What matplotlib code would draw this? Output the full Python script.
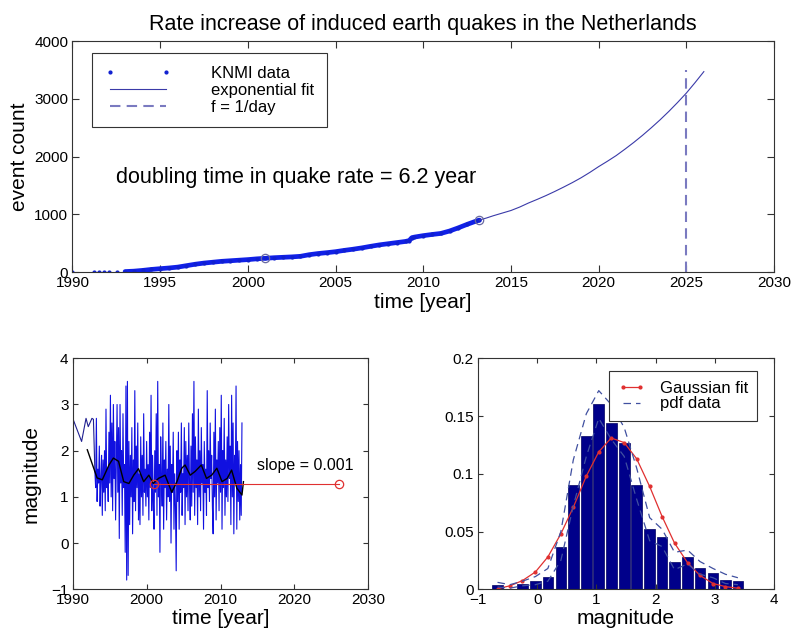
import numpy as np
import matplotlib
matplotlib.use("Agg")
import matplotlib.pyplot as plt
from matplotlib.ticker import FormatStrFormatter

plt.rcParams['font.family'] = ['Liberation Sans', 'DejaVu Sans']

# data - top panel: cumulative event count
knmi_year = [1990.0, 1991.24, 1991.52, 1991.81, 1992.1, 1992.54,
             1993.0, 1993.5, 1994.0, 1994.5, 1995.0, 1995.5, 1996.0, 1996.5,
             1997.0, 1997.5, 1998.0, 1998.5, 1999.0, 1999.5, 2000.0, 2000.5,
             2001.0, 2001.5, 2002.0, 2002.5, 2003.0, 2003.5, 2004.0, 2004.5,
             2005.0, 2005.5, 2006.0, 2006.5, 2007.0, 2007.5, 2008.0, 2008.5,
             2009.0, 2009.2, 2009.35, 2009.5, 2010.0, 2010.5, 2011.0, 2011.5,
             2012.0, 2012.5, 2013.0, 2013.2]
knmi_count = [0, 1, 2, 3, 4, 6,
              8, 15, 28, 45, 58, 70, 85, 110,
              135, 155, 170, 185, 195, 205, 215, 228,
              238, 248, 255, 262, 272, 300, 320, 335,
              352, 375, 395, 418, 445, 470, 490, 510,
              530, 545, 595, 605, 630, 650, 668, 710,
              765, 825, 880, 900]
fit_year = [2013.2, 2013.6, 2014, 2014.5, 2015, 2015.5, 2016, 2016.5, 2017,
            2017.5, 2018, 2018.5, 2019, 2019.5, 2020, 2020.5, 2021, 2021.5,
            2022, 2022.5, 2023, 2023.5, 2024, 2024.5, 2025, 2025.5, 2026]
fit_count = [900, 935, 975, 1020, 1065, 1125, 1195, 1258, 1324,
             1395, 1470, 1548, 1632, 1725, 1825, 1918, 2016, 2127,
             2243, 2366, 2497, 2634, 2780, 2935, 3098, 3280, 3470]
mark_year = [2001.0, 2013.2]
mark_count = [240, 900]
one_per_day_year = 2025
one_per_day_top = 3500

# data - bottom left: magnitude vs time
early_year = [1990.0, 1991.2, 1991.8, 1992.1, 1992.6, 1992.8, 1993.0]
early_mag = [2.7, 2.2, 2.7, 2.52, 2.7, 2.68, 1.55]
mag_start = 1993.0
mag_step = 0.1
magnitude = [
    1.55, 1.2, 2.7, 0.9, 1.6, 1.3, 2.1, 0.8, 1.4, 1.9,
    0.6, 1.8, 1.1, 2.0, 0.7, 2.9, 1.2, 1.6, 0.9, 2.4,
    1.3, 3.2, 1.0, 2.6, 0.7, 3.0, 1.4, 2.2, 0.5, 1.8,
    3.0, 1.1, 2.5, 0.1, 3.0, 1.3, 2.0, 0.6, 2.8, 1.2,
    1.7, -0.2, 3.4, -0.8, 3.5, -0.7, 2.2, 0.4, 1.9, 1.0,
    2.5, 0.2, 1.8, 0.9, 3.3, 0.7, 2.1, 1.2, 2.6, 0.5,
    1.5, 0.4, 2.3, 1.0, 1.9, 0.6, 2.8, 1.1, 1.6, 0.8,
    2.2, 1.0, 1.7, 0.5, 2.4, 1.2, 3.2, 0.7, 1.9, 1.0,
    0.3, 2.0, 1.1, 2.8, 0.6, 3.5, 1.0, 1.7, -0.2, 2.3,
    1.4, 0.8, 2.6, 0.3, 1.8, 1.2, 2.2, 0.5, 1.6, 1.0,
    3.0, 0.9, 2.1, 0.0, 1.7, 1.1, 2.4, 0.3, 1.5, 0.8,
    -0.6, 2.0, 0.9, 2.4, 0.3, 1.8, 1.1, 2.6, 0.6, 1.5,
    1.2, 2.5, 0.4, 2.2, 1.0, 1.9, 0.7, 2.6, 1.3, 0.5,
    2.1, 0.8, 2.8, 1.1, 3.5, 0.6, 2.3, 1.2, 1.8, 0.4,
    2.9, 1.0, 2.0, 0.7, 2.5, 1.3, 1.7, 0.3, 2.2, 1.1,
    1.6, 0.6, 3.3, 1.2, 2.0, 0.9, 2.6, 1.4, 1.9, 0.8,
    0.2, 2.4, 1.0, 2.9, 0.5, 1.8, 1.3, 2.2, 0.7, 2.5,
    1.1, 3.2, 0.3, 2.0, 1.2, 2.7, 0.6, 1.8, 1.0, 2.3,
    0.9, 3.0, 1.4, 2.1, 0.4, 3.2, 1.0, 2.6, 0.2, 1.9,
    1.3, 3.4, 0.3, 2.2, 0.9, 2.0, 0.5, 1.7, 0.6, 2.6,
]
trend_year = [1991.97, 1993.3, 1994.0, 1994.9, 1995.5, 1996.2, 1996.9,
              1997.6, 1998.25, 1998.9, 1999.6, 2000.3, 2000.9, 2001.6,
              2002.5, 2003.4, 2004.1, 2004.75, 2005.2, 2005.9, 2006.55,
              2007.4, 2008.1, 2008.8, 2009.5, 2010.2, 2010.9, 2011.5,
              2012.2, 2012.9, 2013.1]
trend_mag = [2.02, 1.41, 1.37, 1.69, 1.84, 1.77, 1.33,
             1.29, 1.47, 1.61, 1.33, 1.47, 1.29, 1.40,
             1.47, 1.10, 1.33, 1.62, 1.69, 1.47, 1.55,
             1.69, 1.40, 1.47, 1.62, 1.33, 1.40, 1.58,
             1.19, 1.04, 1.33]
slope_year = [2001.0, 2026.0]
slope_mag = [1.28, 1.28]

# data - bottom right: magnitude distribution
bin_center = [-0.67, -0.46, -0.25, -0.03, 0.18, 0.40, 0.61, 0.83, 1.04, 1.25,
              1.47, 1.68, 1.90, 2.11, 2.32, 2.54, 2.75, 2.97, 3.18, 3.39]
bin_prob = [0.004, 0.0, 0.005, 0.007, 0.011, 0.037, 0.090, 0.133, 0.160, 0.144,
            0.127, 0.090, 0.052, 0.045, 0.024, 0.028, 0.018, 0.014, 0.008, 0.007]
gauss_prob = [0.0005, 0.003, 0.0075, 0.015, 0.028, 0.048, 0.071, 0.098, 0.119, 0.131,
              0.127, 0.113, 0.089, 0.063, 0.040, 0.023, 0.012, 0.005, 0.0023, 0.0009]
pdf_upper = [0.006, 0.004, 0.007, 0.011, 0.018, 0.050, 0.112, 0.152, 0.172, 0.160,
             0.140, 0.105, 0.062, 0.052, 0.032, 0.034, 0.024, 0.018, 0.013, 0.010]
pdf_lower = [0.002, 0.001, 0.003, 0.004, 0.007, 0.025, 0.072, 0.115, 0.148, 0.130,
             0.115, 0.078, 0.042, 0.037, 0.017, 0.022, 0.013, 0.010, 0.005, 0.004]

frame = '#333333'

fig = plt.figure(figsize=(7.94, 6.39), dpi=100)
ax_top = fig.add_axes([0.0913, 0.5743, 0.8835, 0.3615])
ax_mag = fig.add_axes([0.0916, 0.0778, 0.3723, 0.3615])
ax_pdf = fig.add_axes([0.602, 0.0778, 0.3728, 0.3615])

# top panel
ax_top.plot(knmi_year[6:], knmi_count[6:], '-', color='#1020e8', lw=3.4,
            solid_capstyle='round')
ax_top.plot(knmi_year, knmi_count, '.', color='#1020d0', ms=4, label='KNMI data')
ax_top.plot(fit_year, fit_count, '-', color='#3a3aa8', lw=0.8, label='exponential fit')
ax_top.plot([one_per_day_year, one_per_day_year], [0, one_per_day_top], '--',
            color='#7a7ac0', lw=1.5, dashes=(5, 3), label='f = 1/day')
ax_top.plot(mark_year, mark_count, 'o', mfc='none', mec='#6a6aa0', ms=6, mew=0.9)
ax_top.set_xlim(1990, 2030)
ax_top.set_ylim(0, 4000)
ax_top.set_xticks(range(1990, 2031, 5))
ax_top.set_yticks(range(0, 4001, 1000))
ax_top.set_title('Rate increase of induced earth quakes in the Netherlands',
                 fontsize=15.5, pad=8)
ax_top.set_xlabel('time [year]', fontsize=15, labelpad=2)
ax_top.set_ylabel('event count', fontsize=15, labelpad=4)
ax_top.text(1992.5, 1550, 'doubling time in quake rate = 6.2 year', fontsize=15.5)
leg = ax_top.legend(loc='upper left', bbox_to_anchor=(0.028, 0.948), fontsize=12,
                    numpoints=2, handlelength=4, handletextpad=2.4,
                    labelspacing=0.12, borderpad=0.75, borderaxespad=0,
                    fancybox=False, edgecolor=frame, framealpha=1)
leg.get_frame().set_linewidth(0.8)

# bottom left panel
mag_year = mag_start + mag_step * np.arange(len(magnitude))
ax_mag.plot(early_year, early_mag, '-', color='#202090', lw=0.8)
ax_mag.plot(mag_year, magnitude, '-', color='#1010e0', lw=0.8)
ax_mag.plot(trend_year, trend_mag, '-', color='black', lw=1.0)
ax_mag.plot(slope_year, slope_mag, '-o', color='#e03030', lw=0.8, mfc='none',
            ms=6, mew=0.9)
ax_mag.text(2014.9, 1.58, 'slope = 0.001', fontsize=11.5)
ax_mag.set_xlim(1990, 2030)
ax_mag.set_ylim(-1, 4)
ax_mag.set_xticks(range(1990, 2031, 10))
ax_mag.set_yticks(range(-1, 5))
ax_mag.set_xlabel('time [year]', fontsize=15, labelpad=1)
ax_mag.set_ylabel('magnitude', fontsize=15, labelpad=8)

# bottom right panel
ax_pdf.bar(bin_center, bin_prob, width=0.18, color='#00008a', edgecolor='#000060',
           lw=0.5)
ax_pdf.plot(bin_center, gauss_prob, '.-', color='#e03030', lw=0.9, ms=4,
            label='Gaussian fit')
ax_pdf.plot(bin_center, pdf_upper, '--', color='#4050a0', lw=0.9, dashes=(6, 4),
            label='pdf data')
ax_pdf.plot(bin_center, pdf_lower, '--', color='#4050a0', lw=0.9, dashes=(6, 4))
ax_pdf.set_xlim(-1, 4)
ax_pdf.set_ylim(0, 0.2)
ax_pdf.set_xticks(range(-1, 5))
ax_pdf.set_yticks([0, 0.05, 0.1, 0.15, 0.2])
ax_pdf.yaxis.set_major_formatter(FormatStrFormatter('%g'))
ax_pdf.set_xlabel('magnitude', fontsize=15, labelpad=1)
leg2 = ax_pdf.legend(loc='upper right', bbox_to_anchor=(0.943, 0.943), fontsize=12,
                     numpoints=2, handlelength=1.6, handletextpad=0.9,
                     labelspacing=0.05, borderpad=0.55, borderaxespad=0,
                     fancybox=False, edgecolor=frame, framealpha=1)
leg2.get_frame().set_linewidth(0.8)

for ax, tl in [(ax_top, 5), (ax_mag, 3.5), (ax_pdf, 3.5)]:
    ax.tick_params(direction='in', top=True, right=True, length=tl,
                   width=0.8, color=frame, labelsize=11, pad=3)
    for sp in ax.spines.values():
        sp.set_color(frame)
        sp.set_linewidth(0.8)

fig.savefig('out.png', dpi=100)
